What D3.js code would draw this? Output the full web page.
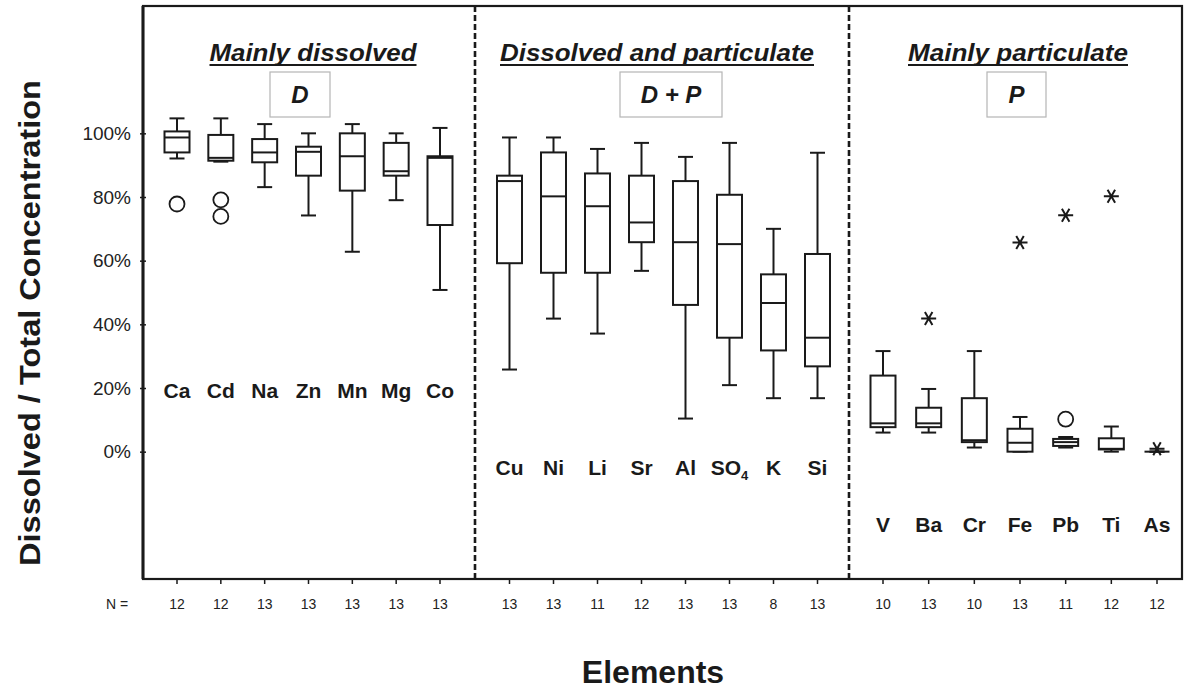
<!DOCTYPE html>
<html>
<head>
<meta charset="utf-8">
<script src="https://cdn.jsdelivr.net/npm/d3@7"></script>
<style>
  html, body { margin: 0; padding: 0; background: #fff; }
  svg { display: block; font-family: "Liberation Sans", Arial, sans-serif; }
</style>
</head>
<body>
<svg id="chart" width="1184" height="689"></svg>
<script>
// ---- Data: dissolved / total concentration ratios (%) per element ----
const groupNames   = ["Mainly dissolved", "Dissolved and particulate", "Mainly particulate"];
const groupCodes   = ["D", "D + P", "P"];
const elementsD    = ["Ca", "Cd", "Na", "Zn", "Mn", "Mg", "Co"];
const elementsDP   = ["Cu", "Ni", "Li", "Sr", "Al", "SO4", "K", "Si"];
const elementsP    = ["V", "Ba", "Cr", "Fe", "Pb", "Ti", "As"];
const elements     = [...elementsD, ...elementsDP, ...elementsP];

const sampleCounts = [12, 12, 13, 13, 13, 13, 13,
                      13, 13, 11, 12, 13, 13, 8, 13,
                      10, 13, 10, 13, 11, 12, 12];
const whiskerLow   = [92.1, 91.1, 83.1, 74.2, 62.8, 79.0, 50.8,
                      25.8, 41.8, 37.1, 56.8, 10.4, 20.9, 16.8, 16.8,
                      6.0, 6.0, 1.3, 0.0, 1.3, 0.0, 0.0];
const quartile1    = [94.0, 91.4, 90.9, 86.7, 82.0, 86.7, 71.2,
                      59.2, 56.2, 56.2, 65.8, 46.1, 35.8, 31.8, 26.8,
                      7.7, 7.7, 3.0, 0.0, 1.8, 0.7, 0.0];
const medians      = [98.7, 92.3, 94.0, 94.2, 92.8, 88.1, 92.3,
                      85.0, 80.2, 77.1, 72.0, 65.8, 65.2, 46.7, 35.8,
                      8.9, 8.9, 3.6, 2.8, 3.0, 0.9, 0.0];
const quartile3    = [100.6, 99.5, 98.2, 95.8, 100.0, 97.0, 92.8,
                      86.7, 94.0, 87.4, 86.7, 85.0, 80.7, 55.7, 62.1,
                      23.9, 13.8, 16.8, 7.2, 4.0, 4.2, 0.0];
const whiskerHigh  = [104.7, 104.7, 102.9, 100.0, 102.9, 100.0, 101.7,
                      98.7, 98.7, 95.1, 97.0, 92.6, 97.0, 70.0, 93.9,
                      31.6, 19.7, 31.6, 10.9, 4.6, 7.9, 0.0];
// Outliers (circles) and extreme values (asterisks)
const outlierElements = ["Ca", "Cd", "Cd", "Pb"];
const outlierValues   = [77.8, 79.1, 73.9, 10.2];
const extremeElements = ["Ba", "Fe", "Pb", "Ti", "As"];
const extremeValues   = [41.8, 65.7, 74.3, 80.2, 0.9];

const yTicks = [0, 20, 40, 60, 80, 100];

// ---- Layout ----
const svg = d3.select("#chart");
const frame = { left: 143, right: 1182, top: 6, bottom: 579 };
const dividers = [475, 849];
const ink = "#1a1a1a";

const y = d3.scaleLinear().domain([-40, 140]).range([frame.bottom, frame.top]);

// Each panel gets its own point scale for its elements
const panels = [
  { els: elementsD,  range: [177, 440],   center: 313, titleLen: 207, boxX: [270, 330], labelY: 398 },
  { els: elementsDP, range: [509.5, 817.5], center: 657, titleLen: 314, boxX: [620, 722], labelY: 475 },
  { els: elementsP,  range: [883, 1157],  center: 1018, titleLen: 220, boxX: [987, 1046], labelY: 532 }
];
panels.forEach(p => { p.x = d3.scalePoint().domain(p.els).range(p.range); });
const xOf = el => { const p = panels.find(q => q.els.includes(el)); return p.x(el); };
const panelOf = el => panels.find(q => q.els.includes(el));

const boxW = 25, capW = 15;

// Frame
svg.append("rect")
  .attr("x", frame.left).attr("y", frame.top)
  .attr("width", frame.right - frame.left).attr("height", frame.bottom - frame.top)
  .attr("fill", "none").attr("stroke", ink).attr("stroke-width", 2.2);
svg.append("line")
  .attr("x1", frame.left).attr("x2", frame.left)
  .attr("y1", frame.top).attr("y2", frame.bottom)
  .attr("stroke", ink).attr("stroke-width", 3);

// Dashed panel dividers
dividers.forEach(dx => {
  svg.append("line")
    .attr("x1", dx).attr("x2", dx)
    .attr("y1", frame.top).attr("y2", frame.bottom)
    .attr("stroke", ink).attr("stroke-width", 2.6)
    .attr("stroke-dasharray", "6,3");
});

// Y axis ticks and labels
const yAxis = d3.axisLeft(y).tickValues(yTicks).tickFormat(d => d + "%").tickSize(3).tickPadding(9);
const yG = svg.append("g").attr("transform", `translate(${frame.left},0)`).call(yAxis);
yG.select(".domain").remove();
yG.selectAll(".tick line").attr("stroke", ink).attr("stroke-width", 1.5).attr("x2", 3).attr("x1", -3);
yG.selectAll(".tick text")
  .attr("font-size", 19).attr("fill", "#222")
  .attr("font-family", "'Liberation Sans', Arial, sans-serif");

// Bottom ticks and N row
elements.forEach((el, i) => {
  const xx = xOf(el);
  svg.append("line").attr("x1", xx).attr("x2", xx)
    .attr("y1", frame.bottom).attr("y2", frame.bottom + 5)
    .attr("stroke", ink).attr("stroke-width", 1.5);
  svg.append("text").attr("x", xx).attr("y", 609)
    .attr("text-anchor", "middle").attr("font-size", 14).attr("fill", "#222")
    .text(sampleCounts[i]);
});
svg.append("text").attr("x", 106).attr("y", 609)
  .attr("font-size", 14).attr("fill", "#222").text("N =");

// Box plots
const boxes = svg.append("g").attr("stroke", ink).attr("stroke-width", 2).attr("fill", "none");
elements.forEach((el, i) => {
  const cx = xOf(el);
  const g = boxes.append("g");
  // whiskers
  g.append("line").attr("x1", cx).attr("x2", cx)
    .attr("y1", y(whiskerHigh[i])).attr("y2", y(quartile3[i]));
  g.append("line").attr("x1", cx).attr("x2", cx)
    .attr("y1", y(quartile1[i])).attr("y2", y(whiskerLow[i]));
  g.append("line").attr("x1", cx - capW / 2).attr("x2", cx + capW / 2)
    .attr("y1", y(whiskerHigh[i])).attr("y2", y(whiskerHigh[i]));
  g.append("line").attr("x1", cx - capW / 2).attr("x2", cx + capW / 2)
    .attr("y1", y(whiskerLow[i])).attr("y2", y(whiskerLow[i]));
  // box
  g.append("rect")
    .attr("x", cx - boxW / 2).attr("width", boxW)
    .attr("y", y(quartile3[i])).attr("height", Math.max(0, y(quartile1[i]) - y(quartile3[i])))
    .attr("fill", "#fff");
  // median
  g.append("line").attr("x1", cx - boxW / 2).attr("x2", cx + boxW / 2)
    .attr("y1", y(medians[i])).attr("y2", y(medians[i]));
});

// Outliers: octagon-like circles
outlierElements.forEach((el, i) => {
  svg.append("circle")
    .attr("cx", xOf(el)).attr("cy", y(outlierValues[i])).attr("r", 7.5)
    .attr("fill", "none").attr("stroke", ink).attr("stroke-width", 1.8);
});

// Extremes: asterisks
const starR = 7.5;
extremeElements.forEach((el, i) => {
  const cx = xOf(el), cy = y(extremeValues[i]);
  const path = d3.path();
  [0, 60, 120].forEach(a => {
    const r = a * Math.PI / 180;
    path.moveTo(cx - starR * Math.cos(r), cy - starR * Math.sin(r));
    path.lineTo(cx + starR * Math.cos(r), cy + starR * Math.sin(r));
  });
  svg.append("path").attr("d", path.toString())
    .attr("stroke", ink).attr("stroke-width", 2).attr("fill", "none");
});

// Element labels
elements.forEach(el => {
  const p = panelOf(el);
  const t = svg.append("text")
    .attr("x", p.x(el)).attr("y", p.labelY)
    .attr("text-anchor", "middle")
    .attr("font-size", 21).attr("font-weight", "bold").attr("fill", ink);
  if (el === "SO4") {
    t.append("tspan").text("SO");
    t.append("tspan").attr("font-size", 13).attr("dy", 5).text("4");
  } else {
    t.text(el);
  }
});

// Panel headings and group codes
panels.forEach((p, i) => {
  svg.append("text")
    .attr("x", p.center).attr("y", 61)
    .attr("text-anchor", "middle")
    .attr("font-size", 24).attr("font-weight", "bold").attr("font-style", "italic")
    .attr("textLength", p.titleLen).attr("lengthAdjust", "spacingAndGlyphs")
    .attr("fill", ink)
    .text(groupNames[i]);
  svg.append("line")
    .attr("x1", p.center - p.titleLen / 2).attr("x2", p.center + p.titleLen / 2)
    .attr("y1", 65).attr("y2", 65)
    .attr("stroke", ink).attr("stroke-width", 1.8);
  svg.append("rect")
    .attr("x", p.boxX[0]).attr("y", 72)
    .attr("width", p.boxX[1] - p.boxX[0]).attr("height", 45)
    .attr("fill", "#fff").attr("stroke", "#b5b5b5").attr("stroke-width", 1.2);
  svg.append("text")
    .attr("x", (p.boxX[0] + p.boxX[1]) / 2).attr("y", 103)
    .attr("text-anchor", "middle")
    .attr("font-size", 24).attr("font-weight", "bold").attr("font-style", "italic")
    .attr("fill", ink)
    .text(groupCodes[i]);
});

// Axis titles
svg.append("text")
  .attr("transform", "translate(40,323) rotate(-90)")
  .attr("text-anchor", "middle")
  .attr("font-size", 30).attr("font-weight", "bold").attr("fill", ink)
  .attr("textLength", 486).attr("lengthAdjust", "spacingAndGlyphs")
  .text("Dissolved / Total Concentration");
svg.append("text")
  .attr("x", 653).attr("y", 683)
  .attr("text-anchor", "middle")
  .attr("font-size", 32).attr("font-weight", "bold").attr("fill", ink)
  .text("Elements");
</script>
</body>
</html>
